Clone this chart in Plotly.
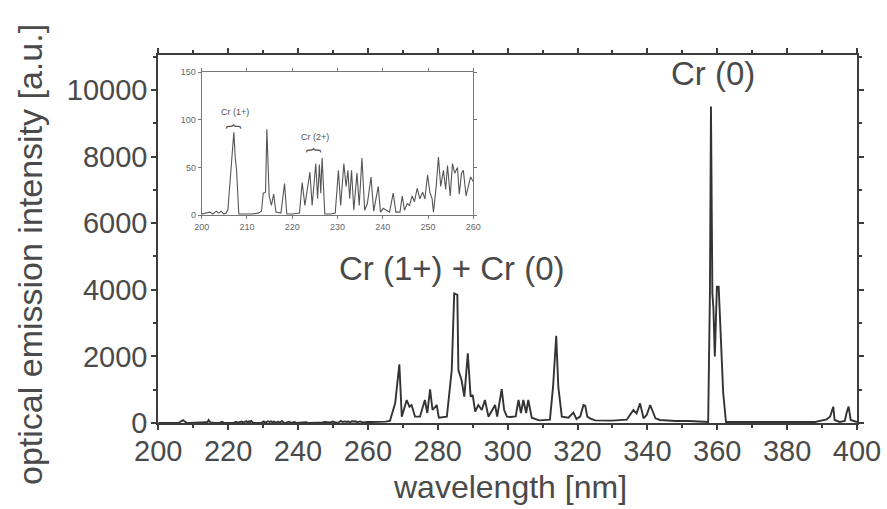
import plotly.graph_objects as go

# ---- inset / low-wavelength region (200-260 nm) ----
inset_wl = [200, 201.0, 201.8, 202.5, 203.2, 203.8, 204.3, 204.9, 205.4, 205.8, 206.2, 206.6, 207.1, 207.4, 207.7, 208.2,
            209, 211, 212.5, 213.2, 213.6, 214.1, 214.4, 214.9, 215.4, 215.9, 216.4, 217.5, 218.3, 218.8, 220, 221.6,
            222.2, 222.8, 223.9, 224.4, 225.2, 225.6, 226.0, 226.3, 226.6, 227.2, 228.5, 229.5,
            230.2, 230.7, 231.4, 231.9, 232.3, 232.7, 233.1, 233.6, 234.3, 234.8, 235.4, 236.0, 236.6, 237.4, 238.0,
            239.0, 239.5, 240.1, 240.8, 241.5, 242.3, 242.9, 243.8, 244.3, 244.8, 245.4, 245.9, 246.5, 247.0, 247.6,
            248.2, 248.8, 249.3, 249.9, 250.4, 250.9, 251.2, 251.8, 252.3, 252.8, 253.4, 253.9, 254.3, 254.9, 255.4,
            255.9, 256.5, 256.9, 257.4, 257.8, 258.4, 258.9, 259.4, 260]
inset_int = [1, 2, 3, 1, 4, 2, 4, 1, 2, 6, 30, 51, 87, 61, 47, 1,
             1, 1, 2, 4, 23, 24, 90, 20, 10, 22, 3, 2, 33, 1, 1, 2,
             34, 10, 45, 10, 54, 17, 53, 23, 60, 1, 1, 2,
             47, 10, 54, 30, 47, 17, 47, 5, 44, 10, 60, 5, 12, 40, 4,
             30, 3, 7, 5, 3, 23, 3, 3, 20, 5, 12, 10, 20, 14, 28,
             17, 24, 17, 42, 24, 17, 3, 30, 61, 30, 47, 27, 52, 20, 54,
             44, 50, 22, 44, 47, 20, 30, 40, 35]

# ---- main spectrum beyond 260 nm ----
main_wl = [261, 263, 265, 266.3, 267.8, 269.0, 269.7, 271.1, 271.9, 272.5, 273.5, 274.9, 276.3, 277.0, 277.8, 278.5,
           279.7, 280.3, 282.6, 284.0, 284.7, 285.6, 285.9, 286.8, 287.6, 288.6, 289.4, 290.0, 290.7, 291.6, 292.6,
           293.5, 294.5, 296.4, 297.0, 298.3, 299.0, 299.8, 300.7, 302.3, 303.1, 303.8, 304.5, 305.3, 305.9, 306.9,
           309, 312.1, 313.0, 313.9, 314.5, 315.5, 317.4, 318.8, 319.7, 320.8, 321.7, 322.2, 322.8, 323.6, 325,
           330, 334.1, 335.0, 336.0, 336.9, 337.9, 338.9, 339.8, 340.8, 342.3, 343.6, 348, 352, 356, 357.4,
           357.9, 358.2, 358.6, 358.9, 359.3, 359.9, 360.4, 360.9, 361.7, 362.5, 366, 372, 380, 388, 391.3, 392.3,
           393.2, 393.6, 395.0, 396.5, 397.1, 397.6, 398.2, 400]
main_int = [30, 30, 40, 60, 590, 1760, 190, 690, 490, 540, 190, 190, 690, 300, 1010, 390,
            540, 160, 190, 1590, 3890, 3850, 1590, 1290, 790, 2090, 790, 840, 340, 540, 390,
            690, 190, 540, 190, 1020, 390, 190, 180, 200, 690, 300, 690, 300, 690, 160,
            80, 100, 1090, 2620, 1090, 190, 160, 310, 120, 200, 540, 520, 190, 140, 80,
            70, 100, 240, 390, 290, 590, 140, 240, 540, 140, 90, 60, 60, 50, 30,
            3900, 9500, 3900, 3440, 2000, 4090, 4090, 2890, 900, 30, 30, 30, 25, 30, 110, 190,
            490, 90, 30, 60, 340, 490, 90, 30]

x_ticks = [200, 220, 240, 260, 280, 300, 320, 340, 360, 380, 400]
y_ticks = [0, 2000, 4000, 6000, 8000, 10000]
y_tick_text = ["0", "2000", "4000", "6000", "8000", "10000"]
inset_x_ticks = [200, 210, 220, 230, 240, 250, 260]
inset_y_ticks = [0, 50, 100, 150]

W, H = 887, 509
FONT = "Liberation Sans, Arial, sans-serif"
TXT = "#4a4a4a"
AX = "#3c3c3c"
LINE = "#333333"

fig = go.Figure()
fig.add_trace(go.Scatter(x=inset_wl + main_wl, y=inset_int + main_int, mode="lines",
                         line=dict(color=LINE, width=1.9), xaxis="x", yaxis="y", showlegend=False))
fig.add_trace(go.Scatter(x=inset_wl, y=inset_int, mode="lines",
                         line=dict(color="#555555", width=1.1), xaxis="x2", yaxis="y2", showlegend=False))

def px_x(p):
    return p / W

def px_y(p):
    return 1 - p / H

fig.update_layout(
    width=W, height=H, margin=dict(l=0, r=0, t=0, b=0, autoexpand=False),
    paper_bgcolor="white", plot_bgcolor="white",
    font=dict(family=FONT, color=TXT),
    xaxis=dict(domain=[px_x(158.3), px_x(857)], range=[200, 400], tickvals=x_ticks,
               ticks="outside", ticklen=5, tickwidth=1.5, tickcolor=AX, automargin=False,
               ticklabelstandoff=-4,
               minor=dict(dtick=10, ticks="outside", ticklen=3, tickcolor=AX),
               showline=True, linecolor=AX, linewidth=2, mirror="allticks",
               showgrid=False, zeroline=False, tickfont=dict(size=29, color=TXT)),
    yaxis=dict(domain=[px_y(423), px_y(55)], range=[0, 11050], tickvals=y_ticks, ticktext=y_tick_text,
               ticks="outside", ticklen=5, tickwidth=1.5, tickcolor=AX, automargin=False,
               ticklabelstandoff=-2,
               minor=dict(dtick=1000, ticks="outside", ticklen=3, tickcolor=AX),
               showline=True, linecolor=AX, linewidth=2, mirror="allticks",
               showgrid=False, zeroline=False, tickfont=dict(size=29, color=TXT)),
    xaxis2=dict(domain=[px_x(201.7), px_x(473.3)], range=[200, 260], tickvals=inset_x_ticks,
                anchor="y2", ticks="outside", ticklen=3, tickcolor="#777", automargin=False,
                showline=True, linecolor="#777", linewidth=1, mirror="allticks",
                showgrid=False, zeroline=False, tickfont=dict(size=9, color="#666")),
    yaxis2=dict(domain=[px_y(215), px_y(72.3)], range=[0, 150], tickvals=inset_y_ticks,
                anchor="x2", ticks="outside", ticklen=3, tickcolor="#777", automargin=False,
                showline=True, linecolor="#777", linewidth=1, mirror="allticks",
                showgrid=False, zeroline=False, tickfont=dict(size=9, color="#666")),
)

ann = [
    dict(text="wavelength [nm]", xref="paper", yref="paper", x=px_x(510), y=px_y(487),
         showarrow=False, font=dict(size=32, color=TXT), xanchor="center", yanchor="middle"),
    dict(text="optical emission intensity [a.u.]", xref="paper", yref="paper", x=px_x(30), y=px_y(255),
         showarrow=False, textangle=-90, font=dict(size=34, color=TXT), xanchor="center", yanchor="middle"),
    dict(text="Cr (0)", xref="x", yref="y", x=358.8, y=10500, showarrow=False,
         font=dict(size=33, color=TXT), xanchor="center", yanchor="middle"),
    dict(text="Cr (1+) + Cr (0)", xref="x", yref="y", x=284.1, y=4650, showarrow=False,
         font=dict(size=33, color=TXT), xanchor="center", yanchor="middle"),
    dict(text="Cr (1+)", xref="x2", yref="y2", x=207.3, y=108, showarrow=False,
         font=dict(size=9, color="#555"), xanchor="center", yanchor="middle"),
    dict(text="{", xref="x2", yref="y2", x=207.3, y=93, showarrow=False, textangle=90,
         font=dict(size=16, color="#555"), xanchor="center", yanchor="middle"),
    dict(text="Cr (2+)", xref="x2", yref="y2", x=225.0, y=82, showarrow=False,
         font=dict(size=9, color="#555"), xanchor="center", yanchor="middle"),
    dict(text="{", xref="x2", yref="y2", x=225.0, y=68, showarrow=False, textangle=90,
         font=dict(size=16, color="#555"), xanchor="center", yanchor="middle"),
]
fig.update_layout(annotations=ann)

fig.write_html("out.html")
